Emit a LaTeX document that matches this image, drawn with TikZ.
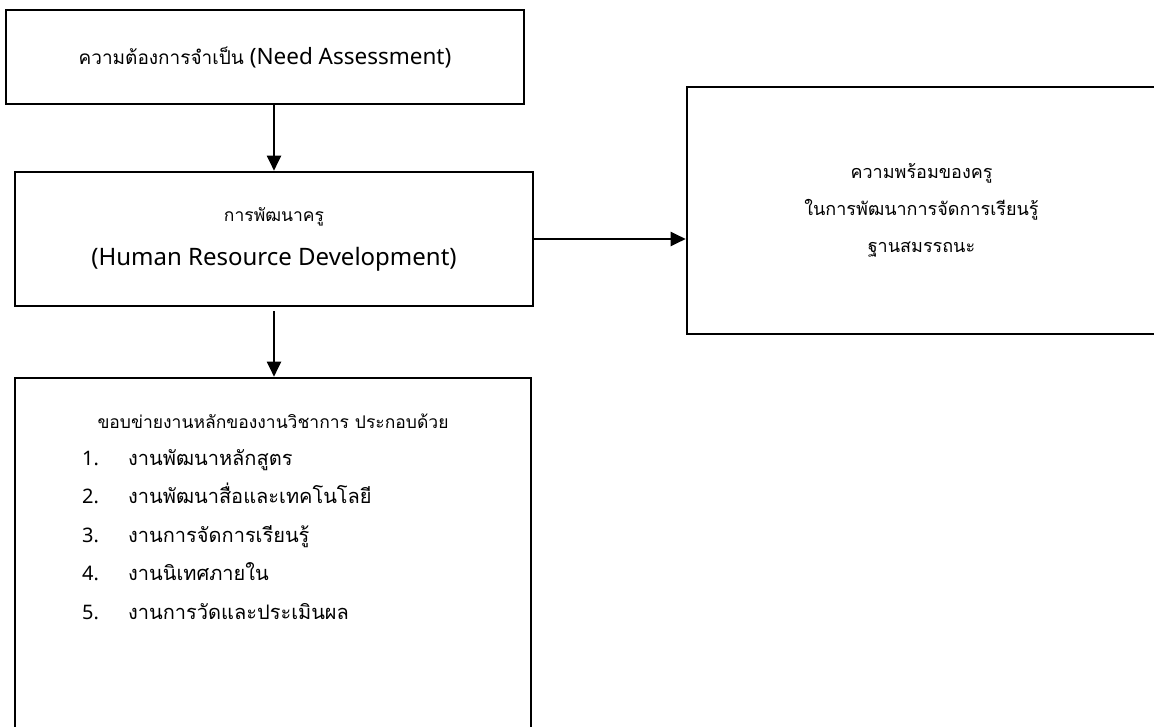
\documentclass[tikz,border=0pt]{standalone}
\usepackage{fontspec}
\setmainfont{Noto Sans}
\newfontfamily\thaifont[Script=Thai]{Loma}
\usetikzlibrary{arrows.meta,positioning}

\begin{document}
\begin{tikzpicture}[x=1pt, y=-1pt,
    block/.style={draw, line width=2.6pt, align=center, inner sep=0pt},
    flow/.style={line width=2pt, -{Triangle[length=15pt,width=14pt]}},
    txt/.style={inner sep=0pt, font=\fontsize{20}{24}\selectfont}]
  % page frame
  \useasboundingbox (0,0) rectangle (1154,727);
  \clip (0,0) rectangle (1154,727);

  % Draw the four boxes
  \node[block, minimum width=518pt, minimum height=94pt, font=\fontsize{22.5}{26}\selectfont] (need) at (265,57)
    {{\thaifont\fontsize{19}{26}\selectfont ความต้องการจำเป็น} (Need Assessment)};
  \node[block, minimum width=518pt, minimum height=134pt, font=\fontsize{24}{44}\selectfont] (hrd) at (274,239)
    {{\thaifont\fontsize{17.5}{44}\selectfont การพัฒนาครู}\\(Human Resource Development)};
  \node[block, minimum width=469pt, minimum height=247pt, font=\thaifont\fontsize{18}{37}\selectfont] (ready) at (921.5,210.5)
    {ความพร้อมของครู\\ในการพัฒนาการจัดการเรียนรู้\\ฐานสมรรถนะ};
  \node[block, minimum width=516pt, minimum height=382pt] (tasks) at (273,569) {};

  % Heading and list inside the lower box
  \node[txt, anchor=base, font=\thaifont\fontsize{17.5}{24}\selectfont] (taskhead) at (273,428)
    {ขอบข่ายงานหลักของงานวิชาการ ประกอบด้วย};
  \foreach \i/\job in {1/งานพัฒนาหลักสูตร, 2/งานพัฒนาสื่อและเทคโนโลยี, 3/งานการจัดการเรียนรู้,
                       4/งานนิเทศภายใน, 5/งานการวัดและประเมินผล} {
      % Compute baseline of each line
      \pgfmathsetmacro{\ypos}{465 + (\i-1)*38.6}

      \node[txt, anchor=base west] (num\i) at (82,\ypos) {\i.};
      \node[txt, anchor=base west, font=\thaifont\fontsize{20}{24}\selectfont] (job\i) at (128,\ypos) {\job};
    }

  % Draw connecting arrows
  \draw[flow] (hrd.north |- need.south) -- (hrd.north);
  \draw[flow, shorten <=4pt] (hrd.south) -- (hrd.south |- tasks.north);
  \draw[flow] (hrd.east) -- (ready.west |- hrd.east);
\end{tikzpicture}
\end{document}
